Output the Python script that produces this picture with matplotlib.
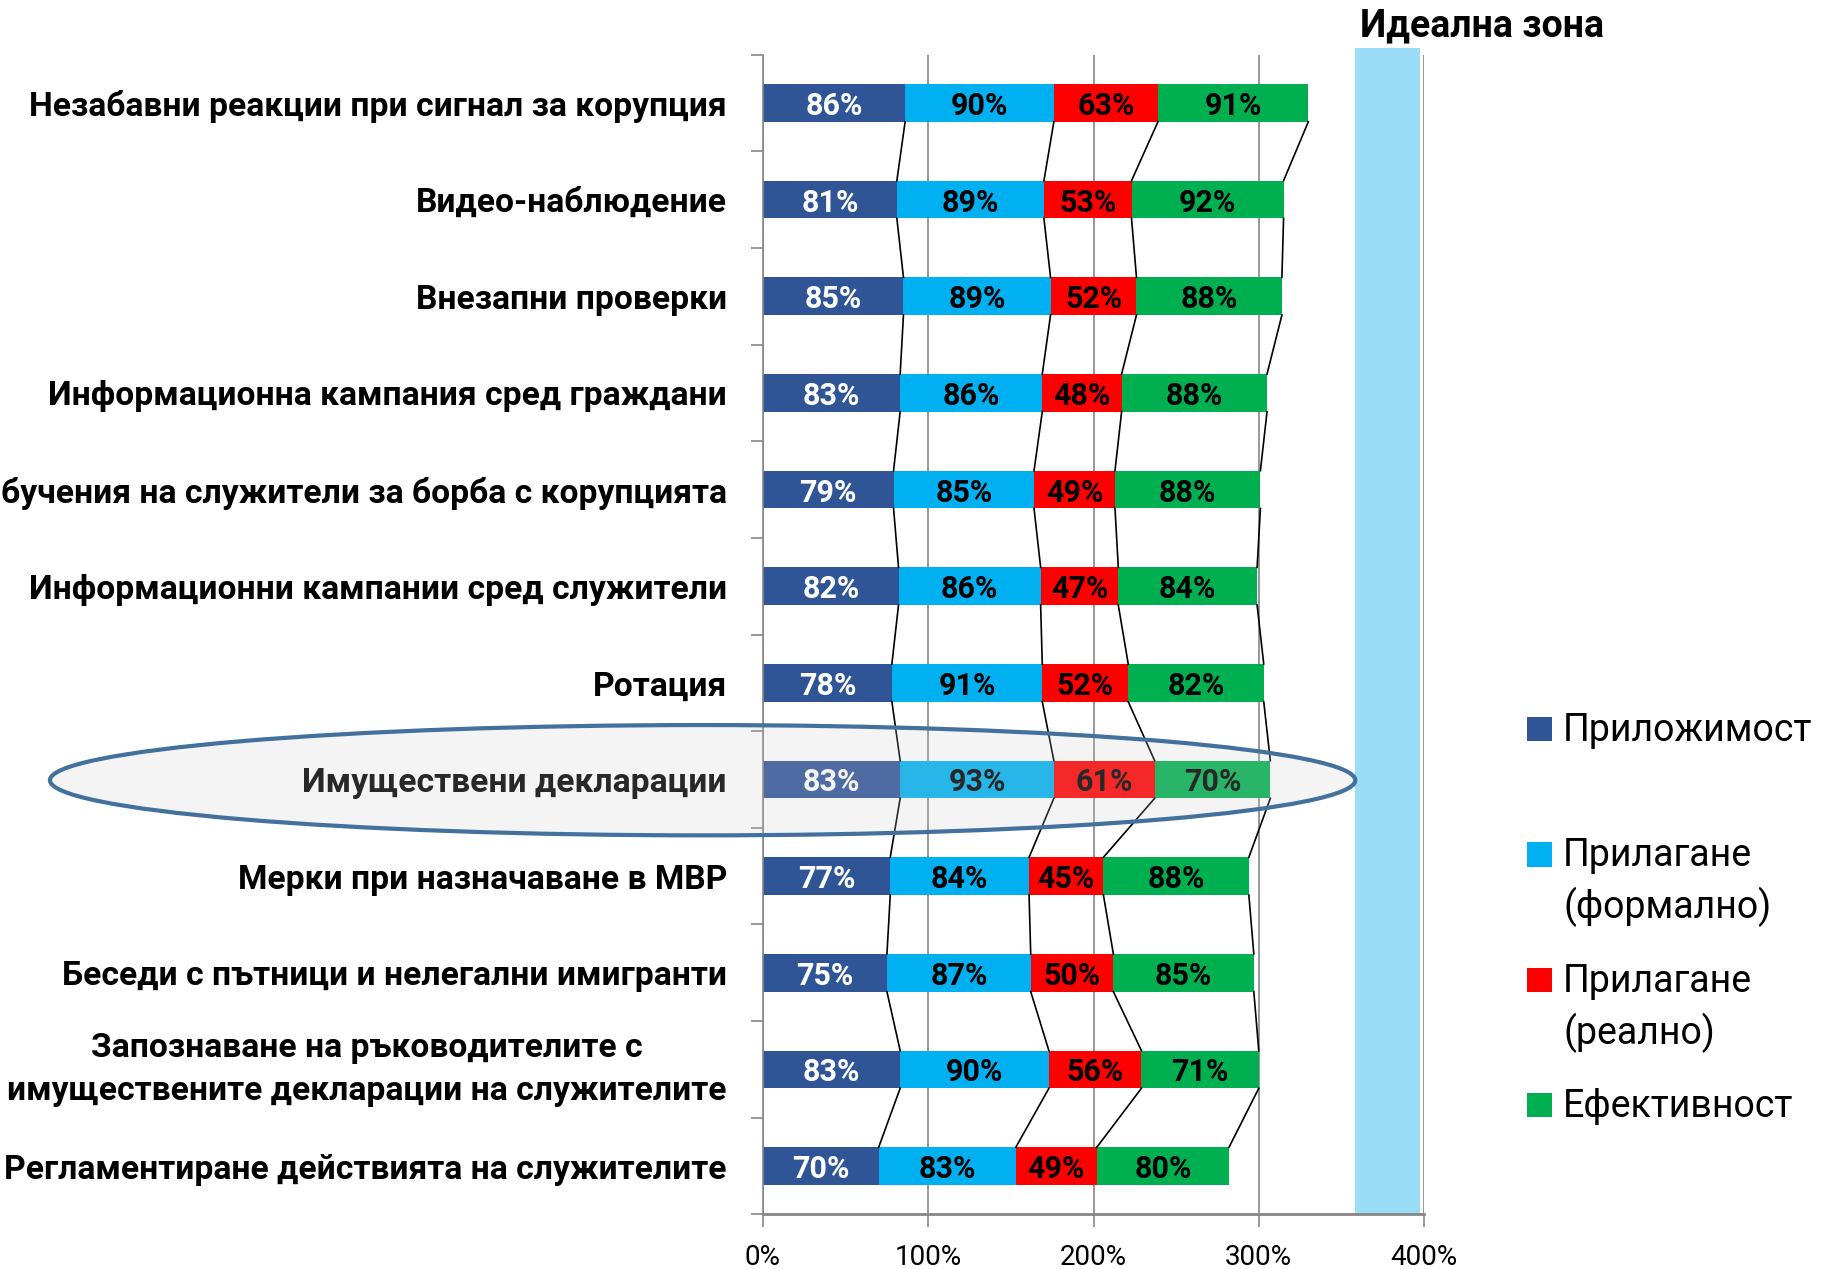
import matplotlib
matplotlib.use("Agg")
import matplotlib.pyplot as plt
from matplotlib.patches import Ellipse, Rectangle
import numpy as np

plt.rcParams['font.family'] = ['Roboto', 'DejaVu Sans']

categories = [
    "Незабавни реакции при сигнал за корупция",
    "Видео-наблюдение",
    "Внезапни проверки",
    "Информационна кампания сред граждани",
    "Обучения на служители за борба с корупцията",
    "Информационни кампании сред служители",
    "Ротация",
    "Имуществени декларации",
    "Мерки при назначаване в МВР",
    "Беседи с пътници и нелегални имигранти",
    "Запознаване на ръководителите с\nимуществените декларации на служителите",
    "Регламентиране действията на служителите",
]
prilozhimost = [86, 81, 85, 83, 79, 82, 78, 83, 77, 75, 83, 70]
formalno = [90, 89, 89, 86, 85, 86, 91, 93, 84, 87, 90, 83]
realno = [63, 53, 52, 48, 49, 47, 52, 61, 45, 50, 56, 49]
efektivnost = [91, 92, 88, 88, 88, 84, 82, 70, 88, 85, 71, 80]

series_names = ["Приложимост", "Прилагане\n(формално)", "Прилагане\n(реално)", "Ефективност"]
colors = ["#2F5597", "#00B0F0", "#FF0000", "#00B050"]
label_colors = ["white", "black", "black", "black"]
ticks_x = [0, 1, 2, 3, 4]
ideal_zone = (3.585, 3.975)

W, H = 1821, 1269
fig = plt.figure(figsize=(W / 100, H / 100), dpi=100)
ax = fig.add_axes([0.419, 0.043, 0.363, 0.914])

data = np.array([prilozhimost, formalno, realno, efektivnost]) / 100.0
y = np.arange(len(categories))
bh = 0.39

# ideal zone band (goes a bit above the plot area)
ax.add_patch(Rectangle((ideal_zone[0], 0), ideal_zone[1] - ideal_zone[0], 1.006,
                       transform=ax.get_xaxis_transform(), facecolor="#9BDDF6",
                       edgecolor="none", clip_on=False, zorder=0.5))

left = np.zeros(len(categories))
for k in range(4):
    ax.barh(y, data[k], left=left, height=bh, color=colors[k], zorder=2)
    for i in range(len(categories)):
        ax.text(left[i] + data[k][i] / 2, y[i], f"{int(round(data[k][i] * 100))}%",
                ha="center", va="center_baseline", fontsize=22, fontweight="bold",
                color=label_colors[k], zorder=3)
    left = left + data[k]

# series lines between bars
cum = np.cumsum(data, axis=0)
for i in range(len(categories) - 1):
    for k in range(4):
        ax.plot([cum[k][i], cum[k][i + 1]], [y[i] + bh / 2, y[i + 1] - bh / 2],
                color="black", lw=1.2, zorder=2.5)

ax.set_xlim(0, 4)
ax.set_ylim(len(categories) - 0.5, -0.5)
ax.set_xticks(ticks_x)
ax.set_xticklabels([f"{t * 100}%" for t in ticks_x], fontsize=20)
ax.grid(axis="x", color="#868686", lw=1.2, zorder=1)
ax.set_axisbelow(True)

ax.set_yticks(y)
ax.set_yticklabels(categories, fontsize=24.2, fontweight="bold")
for t in ax.get_yticklabels():
    t.set_multialignment("center")
    if "\n" in t.get_text():
        t.set_linespacing(1.45)
        t.set_va("center")
    else:
        t.set_va("center_baseline")
ax.set_yticks(np.arange(len(categories) + 1) - 0.5, minor=True)
ax.tick_params(axis="y", which="major", length=0, pad=26)
ax.tick_params(axis="y", which="minor", length=9, width=1.2, color="#868686")
ax.tick_params(axis="x", length=9, width=1.2, color="#868686", pad=12)

for s in ["top", "right"]:
    ax.spines[s].set_visible(False)
ax.spines["left"].set_color("#868686")
ax.spines["bottom"].set_color("#868686")
ax.spines["left"].set_linewidth(1.2)
ax.spines["bottom"].set_linewidth(2)

fig.text(1276 / 1568, 1 - 22 / 1093, "Идеална зона", ha="center", va="center",
         fontsize=27, fontweight="bold")

# legend drawn by hand
leg_y = [628, 736, 844, 952]
for name, c, yy in zip(series_names, colors, leg_y):
    fy = 1 - yy / 1093
    fig.add_artist(Rectangle((1315 / 1568, fy - 0.0095), 21 / 1568, 0.019,
                             transform=fig.transFigure, facecolor=c, edgecolor="none"))
    fig.text(1346 / 1568, fy + 0.0135, name, ha="left", va="top", fontsize=27,
             linespacing=1.4)

# highlight ellipse
ell = Ellipse((605 / 1568, 1 - 672 / 1093), 1124 / 1568, 95 / 1093,
              transform=fig.transFigure, facecolor="#cccccc", alpha=0.2,
              edgecolor="none", zorder=5)
fig.add_artist(ell)
fig.add_artist(Ellipse((605 / 1568, 1 - 672 / 1093), 1124 / 1568, 95 / 1093,
                       transform=fig.transFigure, facecolor="none",
                       edgecolor="#41719C", lw=3, zorder=6))

fig.savefig("out.png", dpi=100)
